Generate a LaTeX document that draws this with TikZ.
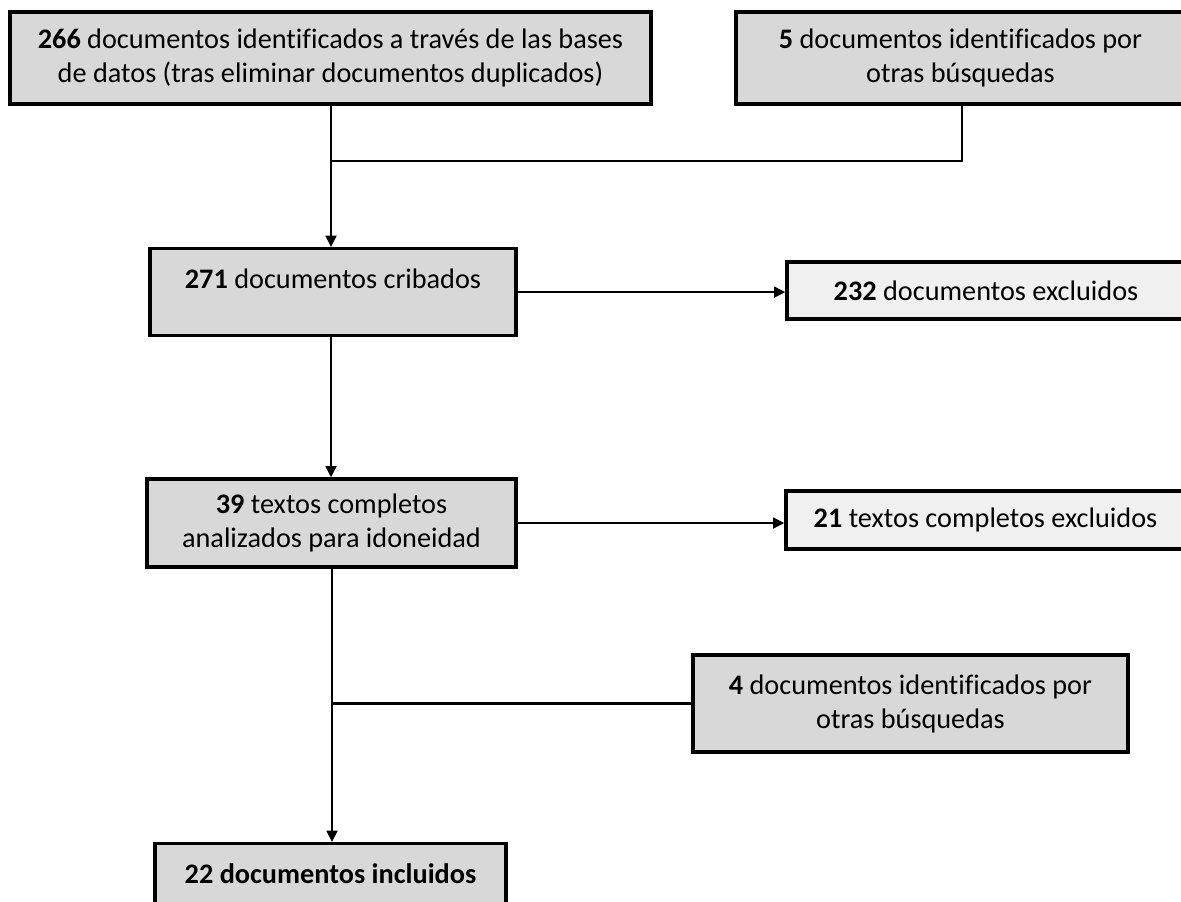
\documentclass[tikz,border=0pt]{standalone}
\usepackage{fontspec}
\setmainfont{Carlito}[Ligatures=NoCommon]
\usetikzlibrary{arrows.meta}
\definecolor{boxgray}{HTML}{D8D8D8}
\definecolor{boxlight}{HTML}{F0F0F0}
\begin{document}
\begin{tikzpicture}[x=0.75pt,y=-0.75pt,
  box/.style={draw=black,line width=2.4pt,fill=boxgray,inner sep=0pt,align=center,
    font=\fontsize{21.2}{25.5}\selectfont},
  lightbox/.style={box,fill=boxlight},
  conn/.style={line width=2pt},
  arr/.style={conn,-{Triangle[length=8.5pt,width=8pt]}}]
\useasboundingbox (0,0) rectangle (1181,901);
\clip (0,0) rectangle (1181,901);
\node[box,minimum width=480.75pt,minimum height=69pt] (A) at (330.5,58)
  {\textbf{266} documentos identificados a través de las bases\\de datos (tras eliminar documentos duplicados)};
\node[box,minimum width=336.75pt,minimum height=69pt] (B) at (960.5,58)
  {\textbf{5} documentos identificados por\\otras búsquedas};
\node[box,anchor=north,minimum width=274.5pt,text height=29.9pt,text depth=35.35pt] (C) at (333,247)
  {\textbf{271} documentos cribados};
\node[lightbox,minimum width=298.5pt,minimum height=42.75pt] (D) at (986,290.5)
  {\textbf{232} documentos excluidos};
\node[box,minimum width=276.75pt,minimum height=66pt] (E) at (331.5,523)
  {\textbf{39} textos completos\\analizados para idoneidad};
\node[lightbox,minimum width=299.25pt,minimum height=43.5pt] (F) at (985.5,520)
  {\textbf{21} textos completos excluidos};
\node[box,minimum width=326.25pt,minimum height=72.75pt] (G) at (910.5,703.5)
  {\textbf{4} documentos identificados por\\otras búsquedas};
\node[box,anchor=north,minimum width=263.25pt,text height=29.9pt,text depth=35.35pt] (H) at (330.5,842)
  {\textbf{22 documentos incluidos}};
\coordinate (j1) at (331,161);
\coordinate (j2) at (332,704);
\draw[conn] (A.south -| j1) -- (j1);
\draw[arr] (j1) -- (C.north -| j1);
\draw[conn] (B.south -| 962,0) -- (962,161) -- (j1);
\draw[arr] (C.east) -- (D.west |- C.east);
\draw[arr] (C.south -| j1) -- (E.north -| j1);
\draw[arr] (E.east) -- (F.west |- E.east);
\draw[conn] (E.south -| j2) -- (j2);
\draw[arr] (j2) -- (H.north -| j2);
\draw[conn] (G.west) -- (j2 |- G.west);
\end{tikzpicture}
\end{document}
